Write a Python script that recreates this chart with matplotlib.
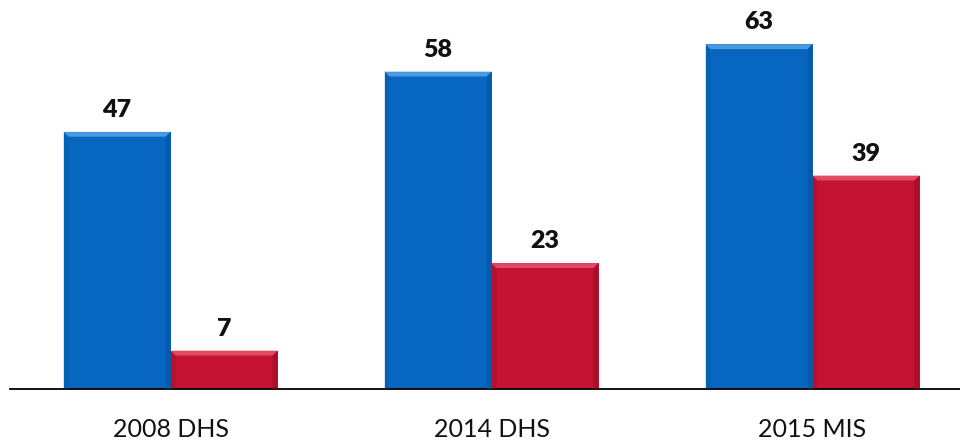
import numpy as np
import matplotlib.pyplot as plt
from matplotlib.patches import Polygon
from matplotlib.transforms import ScaledTranslation

surveys = ['2008 DHS', '2014 DHS', '2015 MIS']
blue_vals = [47, 58, 63]
red_vals = [7, 23, 39]

blue = '#0767C0'
red = '#C41232'
blue_light = '#4A98DE'
red_light = '#E04A66'
blue_dark = '#05509A'
red_dark = '#950C26'

plt.rcParams['font.family'] = ['Lato', 'DejaVu Sans']

fig = plt.figure(figsize=(9.6, 4.42), dpi=100)
ax = fig.add_axes([10 / 960, 53 / 442, 950 / 960, 383 / 442])

x = np.arange(len(surveys))
w = 1 / 3


def bevel(ax, xc, h, light, dark):
    # lighter top edge and darker sides, a few pixels wide
    bv = 3.5 / 72
    left, right = xc - w / 2, xc + w / 2
    tr = ax.transData
    top_l = tr + ScaledTranslation(bv, -bv, fig.dpi_scale_trans)
    top_r = tr + ScaledTranslation(-bv, -bv, fig.dpi_scale_trans)
    disp = tr.transform([[left, h], [right, h]])
    inner_l = top_l.transform([[left, h]])[0]
    inner_r = top_r.transform([[right, h]])[0]
    poly = np.array([disp[0], disp[1], inner_r, inner_l])
    ax.add_patch(Polygon(poly, closed=True, transform=None, facecolor=light, edgecolor='none', zorder=3))
    base_l = tr.transform([[left, 0]])[0]
    base_r = tr.transform([[right, 0]])[0]
    side_l = np.array([disp[0], inner_l, [inner_l[0], base_l[1]], base_l])
    side_r = np.array([disp[1], inner_r, [inner_r[0], base_r[1]], base_r])
    ax.add_patch(Polygon(side_l, closed=True, transform=None, facecolor=dark, edgecolor='none', alpha=0.3, zorder=3))
    ax.add_patch(Polygon(side_r, closed=True, transform=None, facecolor=dark, edgecolor='none', alpha=0.55, zorder=3))


ax.bar(x - w / 2, blue_vals, width=w, color=blue, zorder=2)
ax.bar(x + w / 2, red_vals, width=w, color=red, zorder=2)

ax.set_xlim(-0.5, 2.4595)
ax.set_ylim(0, 70)
fig.canvas.draw()

for i in range(len(surveys)):
    bevel(ax, x[i] - w / 2, blue_vals[i], blue_light, blue_dark)
    bevel(ax, x[i] + w / 2, red_vals[i], red_light, red_dark)
    ax.annotate(str(blue_vals[i]), (x[i] - w / 2, blue_vals[i]), xytext=(0, 8),
                textcoords='offset points', ha='center', va='bottom',
                fontsize=18, fontweight='heavy', color='#111111')
    ax.annotate(str(red_vals[i]), (x[i] + w / 2, red_vals[i]), xytext=(0, 8),
                textcoords='offset points', ha='center', va='bottom',
                fontsize=18, fontweight='heavy', color='#111111')

ax.set_xticks(x)
ax.set_xticklabels(surveys, fontsize=18, color='#111111')
ax.tick_params(axis='x', length=0, pad=21)
ax.set_yticks([])
for s in ['top', 'right', 'left']:
    ax.spines[s].set_visible(False)
ax.spines['bottom'].set_color('black')
ax.spines['bottom'].set_linewidth(1.3)

fig.savefig('out.png', dpi=100)
